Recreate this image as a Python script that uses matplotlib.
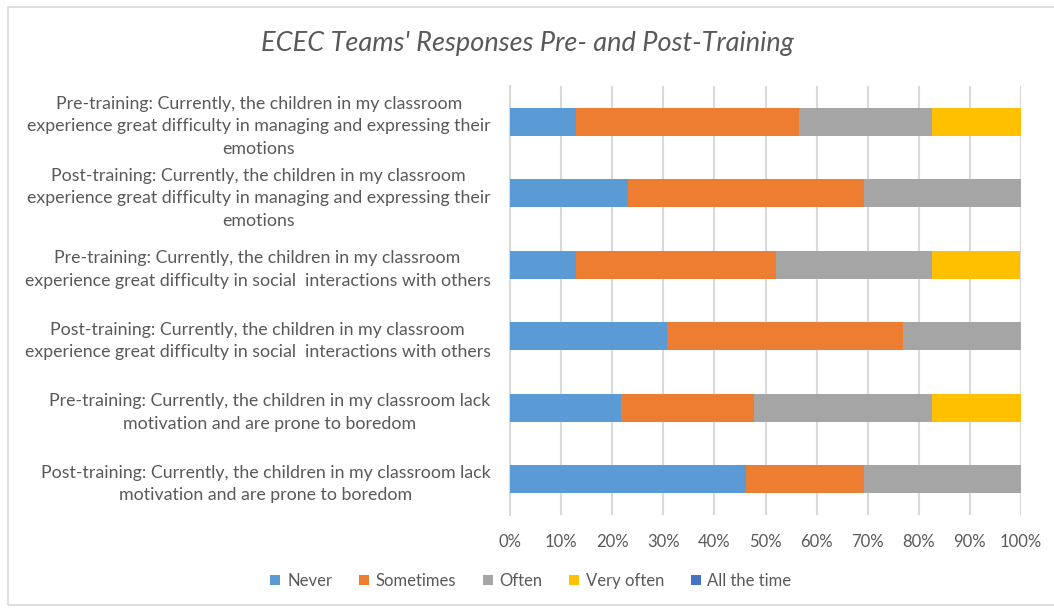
import matplotlib
matplotlib.use("Agg")
import matplotlib.pyplot as plt
from matplotlib.patches import Rectangle

# survey answers, % of respondents per statement (top row first)
statements = [
    "Pre-training: Currently, the children in my classroom\nexperience great difficulty in managing and expressing their\nemotions",
    "Post-training: Currently, the children in my classroom\nexperience great difficulty in managing and expressing their\nemotions",
    "Pre-training: Currently, the children in my classroom\nexperience great difficulty in social  interactions with others",
    "Post-training: Currently, the children in my classroom\nexperience great difficulty in social  interactions with others",
    "Pre-training: Currently, the children in my classroom lack\nmotivation and are prone to boredom",
    "Post-training: Currently, the children in my classroom lack\nmotivation and are prone to boredom",
]
never = [13.0, 23.1, 13.0, 30.8, 21.7, 46.2]
sometimes = [43.5, 46.2, 39.1, 46.2, 26.1, 23.1]
often = [26.1, 30.8, 30.4, 23.1, 34.8, 30.8]
very_often = [17.4, 0, 17.4, 0, 17.4, 0]
all_the_time = [0, 0, 0, 0, 0, 0]

series = ["Never", "Sometimes", "Often", "Very often", "All the time"]
colors = ["#5B9BD5", "#ED7D31", "#A5A5A5", "#FFC000", "#4472C4"]

plt.rcParams['font.family'] = ['Lato', 'DejaVu Sans']
txt = "#595959"

fig = plt.figure(figsize=(10.54, 6.09), dpi=100)
fig.patches.append(Rectangle((8/1054, 1-605/609), 1.2, 598/609, transform=fig.transFigure,
                             fill=False, edgecolor="#D9D9D9", linewidth=1.2))
ax = fig.add_axes([510/1054, 1-515/609, 511/1054, 429/609])

pos = list(range(len(statements)))
left = [0]*len(statements)
for name, vals, c in zip(series, [never, sometimes, often, very_often, all_the_time], colors):
    ax.barh(pos, vals, left=left, height=0.39, color=c, label=name, zorder=3)
    left = [a + b for a, b in zip(left, vals)]

ax.set_xlim(0, 100)
ax.set_ylim(5.5, -0.5)
ax.set_xticks(range(0, 101, 10))
ax.set_xticklabels([f"{v}%" for v in range(0, 101, 10)])
ax.set_yticks(pos)
ax.set_yticklabels(statements, linespacing=1.5)
for t in ax.get_yticklabels():
    t.set_multialignment('center')
ax.tick_params(axis='y', length=0, pad=14, labelsize=12.8, labelcolor=txt)
ax.tick_params(axis='x', length=0, pad=14, labelsize=12, labelcolor=txt)
ax.grid(axis='x', color="#D9D9D9", linewidth=1.5, zorder=0)
for s in ["top", "right", "bottom"]:
    ax.spines[s].set_visible(False)
ax.spines["left"].set_color("#D9D9D9")
ax.spines["left"].set_linewidth(1.5)

fig.text(527/1054, 1-44/609, "ECEC Teams' Responses Pre- and Post-Training",
         ha='center', va='center', fontsize=19.5, style='italic', color=txt)

fig.legend(loc='center', bbox_to_anchor=(531/1054, 1-581/609), ncol=5, frameon=False,
           fontsize=12, labelcolor=txt, handlelength=0.6, handleheight=0.6,
           handletextpad=0.4, columnspacing=1.6)

fig.savefig("out.png", dpi=100)
